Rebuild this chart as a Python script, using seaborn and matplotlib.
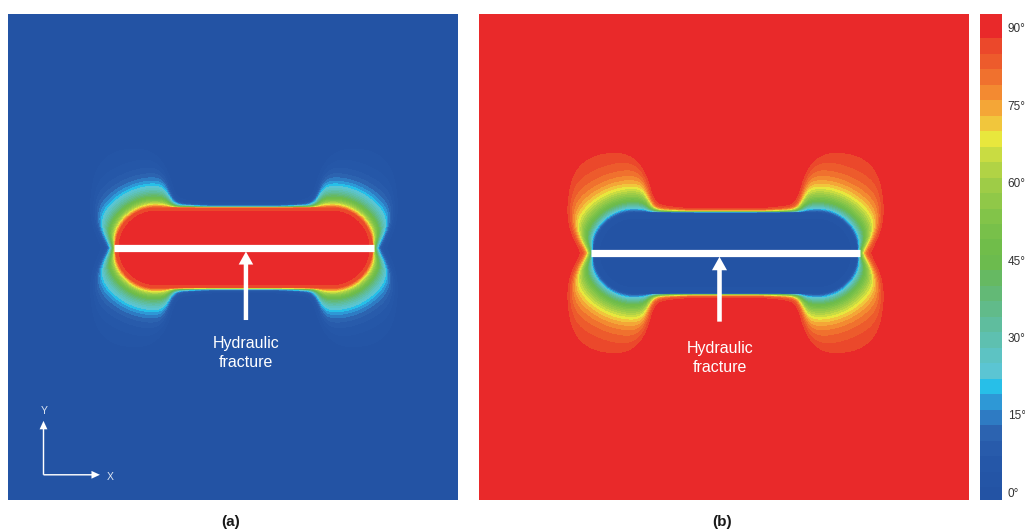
import numpy as np
import matplotlib
matplotlib.use("Agg")
import matplotlib.pyplot as plt
import seaborn as sns
from matplotlib.colors import ListedColormap, BoundaryNorm
from matplotlib.patches import FancyArrow

# ---- angle classes of the principal-stress direction (degrees) ----
band_edges = [-1.5] + list(range(1, 89, 3)) + [92.7]
band_colors = [
    "#2353A4", "#2455A6", "#2557A8", "#285BAB", "#2C63B0", "#2E7BC3",
    "#2E98D6", "#27BFE8", "#5BC5D3", "#5DC3C3", "#5EC0B0", "#5FBD9E",
    "#61BB8A", "#63B976", "#66B962", "#6CBB4E", "#70BD4A", "#78C04A",
    "#82C449", "#90C848", "#9ECC47", "#B1D345", "#C9DC42", "#E8E73D",
    "#F1C63C", "#F4A637", "#F38A31", "#F0712E", "#ED5B2C", "#EB482B",
    "#E9292A",
]
tick_values = [0, 15, 30, 45, 60, 75, 90]
tick_labels = ["0°", "15°", "30°", "45°", "60°", "75°", "90°"]

# ---- panels: model window in units of the fracture half-length ----
panel_labels = ["(a)", "(b)"]
panel_xlim = [(-1.815, 1.646), (-1.833, 1.810)]
panel_ylim = [(-1.940, 1.800), (-1.836, 1.777)]
far_field_angle = [0.0, 90.0]
core_half_length = [0.68, 0.68]
core_radius = [0.31, 0.30]
lobe_center = [(0.88, 0.43), (0.88, 0.43)]
lobe_radii = [(0.30, 0.38), (0.30, 0.38)]
lobe_decay = [0.125, 0.135]
arrow_x = [0.015, -0.045]
arrow_base = [-0.555, -0.51]
caption_xy = [(0.015, -0.81), (-0.04, -0.78)]

FIG_W, FIG_H = 1025, 531
panel_px = [(8, 14, 450, 486), (479, 14, 490, 486)]   # left, top, width, height
cbar_px = (980, 14, 22, 486)


def fig_rect(px):
    left, top, w, h = px
    return [left / FIG_W, 1 - (top + h) / FIG_H, w / FIG_W, h / FIG_H]


def smoothstep(t):
    t = np.clip(t, 0.0, 1.0)
    return t * t * (3 - 2 * t)


def reorientation(x, y, half_len, radius, center, radii, decay):
    """Fraction of the 90° rotation reached around the pressurised fracture."""
    axx, ayy = np.abs(x), np.abs(y)
    d = np.hypot(np.clip(axx - half_len, 0, None), ayy)
    delta = d - radius
    # thin transition along the fracture faces, widening towards the tips
    lam_core = 0.009 + 0.013 * smoothstep((axx - 0.2) / 0.6)
    # wide, slowly decaying lobes above and below each tip
    p = 2.5
    dn = (np.abs((axx - center[0]) / radii[0]) ** p
          + np.abs((ayy - center[1]) / radii[1]) ** p) ** (1 / p)
    member = 1 / (1 + np.exp((dn - 1) / 0.08))
    lam = lam_core + (decay - lam_core) * member
    outer = 0.95 * np.exp(-np.clip(delta, 0, None) / lam)
    inner = 1 - 0.05 * np.exp(np.clip(delta, None, 0) / 0.03)
    return np.where(delta > 0, outer, inner)


sns.set_theme(style="white")
plt.rcParams["font.family"] = ["Liberation Sans", "DejaVu Sans"]

cmap = ListedColormap(band_colors)
norm = BoundaryNorm(band_edges, cmap.N)

fig = plt.figure(figsize=(FIG_W / 100, FIG_H / 100), dpi=100)
cax = fig.add_axes(fig_rect(cbar_px))

for k in range(2):
    left, top, w, h = panel_px[k]
    x0, x1 = panel_xlim[k]
    y0, y1 = panel_ylim[k]
    xs = x0 + (np.arange(w) + 0.5) * (x1 - x0) / w
    ys = y1 - (np.arange(h) + 0.5) * (y1 - y0) / h
    X, Y = np.meshgrid(xs, ys)
    v = reorientation(X, Y, core_half_length[k], core_radius[k],
                      lobe_center[k], lobe_radii[k], lobe_decay[k])
    angle = far_field_angle[k] + (90.0 - 2 * far_field_angle[k]) * v

    ax = fig.add_axes(fig_rect(panel_px[k]))
    sns.heatmap(
        angle, ax=ax, cmap=cmap, norm=norm,
        xticklabels=False, yticklabels=False,
        cbar=(k == 1), cbar_ax=cax if k == 1 else None,
        cbar_kws={"spacing": "proportional", "ticks": tick_values},
    )

    # overlay in model coordinates for the fracture and annotations
    ov = fig.add_axes(fig_rect(panel_px[k]))
    ov.set_xlim(x0, x1)
    ov.set_ylim(y0, y1)
    ov.axis("off")
    ov.patch.set_alpha(0)

    ov.plot([-1, 1], [0, 0], color="white", lw=5.2, solid_capstyle="butt")
    ov.add_patch(FancyArrow(arrow_x[k], arrow_base[k], 0, -0.028 - arrow_base[k],
                            width=0.034, head_width=0.112, head_length=0.10,
                            length_includes_head=True, color="white", lw=0))
    ov.text(caption_xy[k][0], caption_xy[k][1], "Hydraulic\nfracture",
            ha="center", va="center", color="white", fontsize=11.5,
            linespacing=1.3)

    fig.text((left + w / 2 - 2) / FIG_W, 1 - 522 / FIG_H,
             panel_labels[k], ha="center", va="center", fontsize=11,
             fontweight="bold", color="#1a1a1a")

    if k == 0:
        ox, oy = -1.542, -1.746
        ov.add_patch(FancyArrow(ox, oy, 0, 0.415, width=0.011, head_width=0.06,
                                head_length=0.065, length_includes_head=True,
                                color="white", lw=0))
        ov.add_patch(FancyArrow(ox, oy, 0.434, 0, width=0.011, head_width=0.06,
                                head_length=0.065, length_includes_head=True,
                                color="white", lw=0))
        ov.text(-1.538, -1.254, "Y", ha="center", va="center",
                color="#DDE6F2", fontsize=7.5)
        ov.text(-1.031, -1.762, "X", ha="center", va="center",
                color="#DDE6F2", fontsize=7.5)

cax.minorticks_off()
cax.set_yticks(tick_values)
cax.set_yticklabels(tick_labels)
cax.tick_params(axis="y", which="both", length=0, pad=4, labelsize=8.5,
                labelcolor="#333333")

fig.savefig("out.png", dpi=100)
